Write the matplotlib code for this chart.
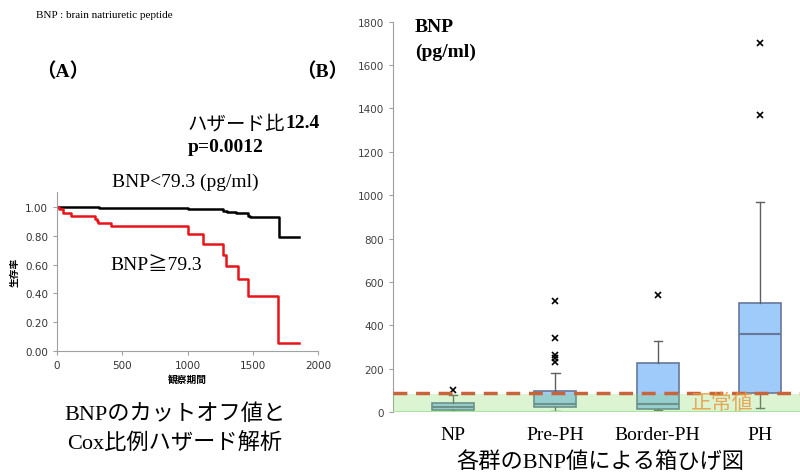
import matplotlib
matplotlib.use("Agg")
import matplotlib.pyplot as plt
import numpy as np

plt.rcParams['font.family'] = ['Liberation Serif', 'Noto Sans CJK JP', 'DejaVu Sans']

# Kaplan-Meier steps (days, survival)
low_t = [0, 110, 320, 1000, 1120, 1270, 1300, 1375, 1460, 1477, 1700, 1855]
low_s = [1.0, 0.997, 0.993, 0.988, 0.983, 0.975, 0.968, 0.955, 0.94, 0.928, 0.79, 0.79]
high_t = [0, 15, 46, 110, 288, 306, 318, 415, 1006, 1121, 1269, 1294, 1386, 1467, 1697, 1855]
high_s = [1.0, 0.985, 0.96, 0.94, 0.92, 0.905, 0.89, 0.865, 0.81, 0.745, 0.67, 0.59, 0.50, 0.38, 0.055, 0.055]

# BNP box plot summary per group
groups = ['NP', 'Pre-PH', 'Border-PH', 'PH']
q1 = [9, 22, 14, 88]
med = [25, 37, 36, 362]
q3 = [40, 95, 224, 503]
wlo = [6, 5, 9, 18]
whi = [80, 178, 328, 968]
fliers = [[101], [510, 340, 262, 250, 232], [540], [1370, 1700]]

normal_top = 82
cutoff = 88

W, H = 800, 477
fig = plt.figure(figsize=(8, 4.77), dpi=100)


def fx(x):
    return x / W


def fy(y):
    return 1 - y / H


# ---- (A) survival curves ----
ax1 = fig.add_axes([fx(57), fy(352), fx(318) - fx(57), fy(193) - fy(352)])
ax1.step(low_t, low_s, where='post', color='black', lw=1.8)
ax1.step(high_t, high_s, where='post', color='#e8141a', lw=1.8)
ax1.set_xlim(0, 2000)
ax1.set_ylim(0, 1.104)
ax1.set_xticks([0, 500, 1000, 1500, 2000])
ax1.set_yticks(np.arange(0, 1.01, 0.2))
ax1.set_yticklabels([f'{v:.2f}' for v in np.arange(0, 1.01, 0.2)])
for s in ['top', 'right']:
    ax1.spines[s].set_visible(False)
for s in ['left', 'bottom']:
    ax1.spines[s].set_color('#a0a0a0')
ax1.tick_params(labelsize=7.5, colors='#a0a0a0', labelcolor='#333333', length=3)
for lb in ax1.get_xticklabels() + ax1.get_yticklabels():
    lb.set_family(['DejaVu Sans'])
ax1.set_xlabel('観察期間', fontsize=7, fontweight='bold', family=['Noto Sans CJK JP'], labelpad=3)
ax1.set_ylabel('生存率', fontsize=7, fontweight='bold', family=['Noto Sans CJK JP'], labelpad=4)

# ---- (B) box plot ----
ax2 = fig.add_axes([fx(393), fy(413), 1 - fx(393), fy(22.7) - fy(413)])
stats = []
for i in range(len(groups)):
    stats.append(dict(med=med[i], q1=q1[i], q3=q3[i], whislo=wlo[i],
                      whishi=whi[i], fliers=fliers[i], label=groups[i]))
ax2.bxp(stats, positions=range(len(groups)), widths=0.41, patch_artist=True,
        boxprops=dict(facecolor='#9ecbfa', edgecolor='#66779a', lw=1.2),
        medianprops=dict(color='#66779a', lw=1.5),
        whiskerprops=dict(color='#606060', lw=1),
        capprops=dict(color='#606060', lw=1), capwidths=0.08,
        flierprops=dict(marker='x', markersize=5, markeredgecolor='black', markeredgewidth=1.2),
        zorder=2)
# normal range band and cut-off line
ax2.axhspan(0, normal_top, color='#82db5e', alpha=0.28, lw=0, zorder=3)
ax2.axhline(0, color='#a8e6a0', lw=1.5, zorder=3)
ax2.axhline(cutoff, color='#c8643c', lw=2.5, ls=(0, (4, 2.5)), zorder=4)
ax2.text(3.0 - 0.37, 45, '正常値', color='#e89a40', fontsize=15, ha='center', va='center',
         family=['Noto Sans CJK JP'], alpha=0.85, zorder=4)

ax2.set_xlim(-0.587, 3.39)
ax2.set_ylim(0, 1800)
ax2.set_yticks(range(0, 1801, 200))
ax2.set_xticks(range(len(groups)))
ax2.set_xticklabels(groups, fontsize=14)
ax2.tick_params(axis='x', length=0, pad=10)
ax2.tick_params(axis='y', labelsize=7.5, colors='#a0a0a0', labelcolor='#404040', length=3)
for lb in ax2.get_yticklabels():
    lb.set_family(['DejaVu Sans'])
for s in ['top', 'right', 'bottom']:
    ax2.spines[s].set_visible(False)
ax2.spines['left'].set_color('#a0a0a0')

# ---- texts ----
fig.text(fx(36), fy(15), 'BNP : brain natriuretic peptide', fontsize=8, va='center')
fig.text(fx(36), fy(72), '（A）', fontsize=14, fontweight='bold', va='center')
fig.text(fx(296), fy(72), '（B）', fontsize=14, fontweight='bold', va='center')
hr = fig.text(fx(188), fy(124), 'ハザード比', fontsize=14, va='center', family=['Noto Sans CJK JP'])
ax1.annotate('12.4', xy=(1, 0.5), xycoords=hr, fontsize=14, fontweight='bold',
             va='center', ha='left', annotation_clip=False)
fig.text(fx(188), fy(148), 'p=0.0012', fontsize=14, fontweight='bold', va='center')
fig.text(fx(112), fy(182), 'BNP<79.3 (pg/ml)', fontsize=14, va='center')
fig.text(fx(110), fy(266), 'BNP≧79.3', fontsize=14, va='center')
fig.text(fx(175), fy(415), 'BNPのカットオフ値と', fontsize=16, ha='center', va='center')
fig.text(fx(175), fy(443), 'Cox比例ハザード解析', fontsize=16, ha='center', va='center')
fig.text(fx(415), fy(28), 'BNP', fontsize=14, fontweight='bold', va='center')
fig.text(fx(415), fy(52), '(pg/ml)', fontsize=14, fontweight='bold', va='center')
fig.text(fx(600), fy(463), '各群のBNP値による箱ひげ図', fontsize=16, ha='center', va='center')

fig.savefig('out.png', dpi=100)
